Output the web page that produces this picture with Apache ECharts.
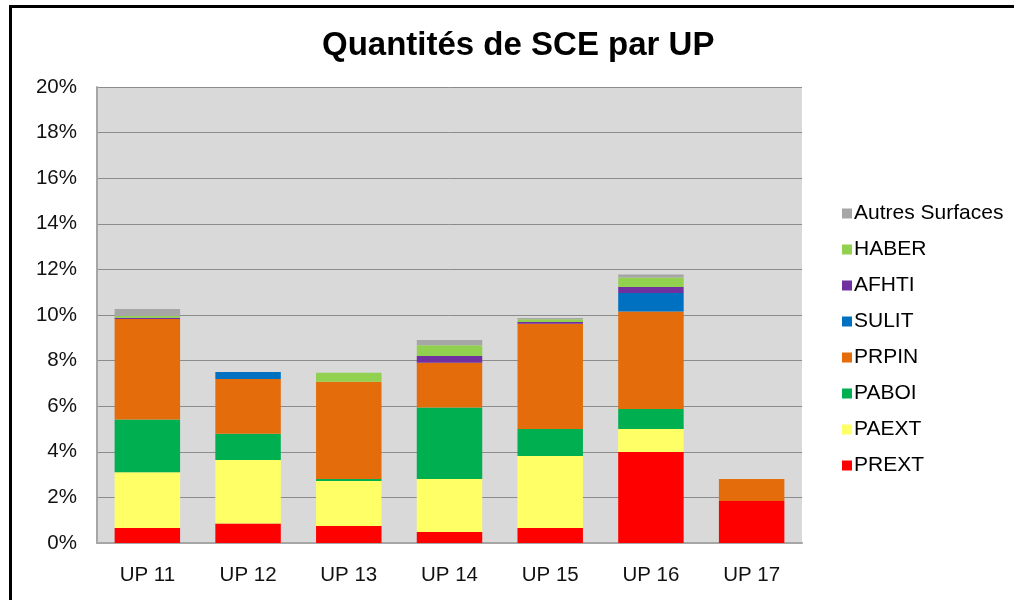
<!DOCTYPE html>
<html>
<head>
<meta charset="utf-8">
<title>Quantités de SCE par UP</title>
<script src="https://cdn.jsdelivr.net/npm/echarts@6/dist/echarts.min.js"></script>
<style>
  html, body { margin: 0; padding: 0; background: #fff; }
  #chart { width: 1014px; height: 600px; }
</style>
</head>
<body>
<div id="chart"></div>
<script>
// categories (UP) and shares in % of each land-use type
var categories = ['UP 11', 'UP 12', 'UP 13', 'UP 14', 'UP 15', 'UP 16', 'UP 17'];
var yTicks = [0, 2, 4, 6, 8, 10, 12, 14, 16, 18, 20];

var prext  = [0.66, 0.86, 0.75, 0.48, 0.66, 3.99, 1.84];
var paext  = [2.44, 2.78, 1.97, 2.33, 3.16, 1.01, 0];
var paboi  = [2.32, 1.15, 0.09, 3.13, 1.18, 0.88, 0];
var prpin  = [4.40, 2.40, 4.26, 1.97, 4.62, 4.27, 0.97];
var sulit  = [0, 0.31, 0, 0, 0, 0.81, 0];
var afhti  = [0.06, 0, 0, 0.29, 0.07, 0.27, 0];
var haber  = [0.08, 0, 0.40, 0.47, 0.12, 0.42, 0];
var autres = [0.30, 0, 0, 0.23, 0.06, 0.13, 0];

var seriesNames = ['PREXT', 'PAEXT', 'PABOI', 'PRPIN', 'SULIT', 'AFHTI', 'HABER', 'Autres Surfaces'];
var seriesData = [prext, paext, paboi, prpin, sulit, afhti, haber, autres];
var colors = ['#ff0000', '#ffff66', '#00b050', '#e46c0a', '#0070c0', '#7030a0', '#92d050', '#a6a6a6'];

var font = '"Liberation Sans", Arial, sans-serif';

var series = [];
for (var i = 0; i < seriesNames.length; i++) {
  series.push({
    name: seriesNames[i],
    type: 'bar',
    stack: 'up',
    barCategoryGap: '35%',
    itemStyle: { color: colors[i] },
    emphasis: { disabled: true },
    data: seriesData[i]
  });
}

var chart = echarts.init(document.getElementById('chart'));
chart.setOption({
  animation: false,
  backgroundColor: '#fff',
  color: colors,
  title: {
    text: 'Quantités de SCE par UP',
    left: 317,
    top: 24,
    textStyle: { fontFamily: font, fontSize: 33, fontWeight: 'bold', color: '#000' }
  },
  legend: {
    orient: 'vertical',
    left: 837,
    top: 198,
    icon: 'rect',
    itemWidth: 10,
    itemHeight: 10,
    itemGap: 15,
    data: seriesNames.slice().reverse(),
    textStyle: { fontFamily: font, fontSize: 21, lineHeight: 21, color: '#000', padding: [0, 0, 0, -3] }
  },
  grid: {
    left: 97,
    right: 212,
    top: 87,
    bottom: 57,
    show: true,
    backgroundColor: '#d9d9d9',
    borderWidth: 0
  },
  xAxis: {
    type: 'category',
    data: categories,
    axisTick: { show: false },
    axisLine: { show: true, lineStyle: { color: '#a6a6a6', width: 2 } },
    axisLabel: { margin: 22, fontFamily: font, fontSize: 20.5, color: '#111' }
  },
  yAxis: {
    type: 'value',
    min: yTicks[0],
    max: yTicks[yTicks.length - 1],
    interval: 2,
    axisLine: { show: true, lineStyle: { color: '#a6a6a6', width: 2 } },
    axisTick: { show: false },
    splitLine: { lineStyle: { color: '#8c8c8c', width: 1 } },
    axisLabel: { margin: 20, fontFamily: font, fontSize: 20.5, color: '#111', formatter: '{value}%' }
  },
  graphic: [{
    type: 'rect',
    silent: true,
    shape: { x: 10.5, y: 6.5, width: 1100, height: 700 },
    style: { fill: 'none', stroke: '#000', lineWidth: 3 }
  }],
  series: series
});
</script>
</body>
</html>
